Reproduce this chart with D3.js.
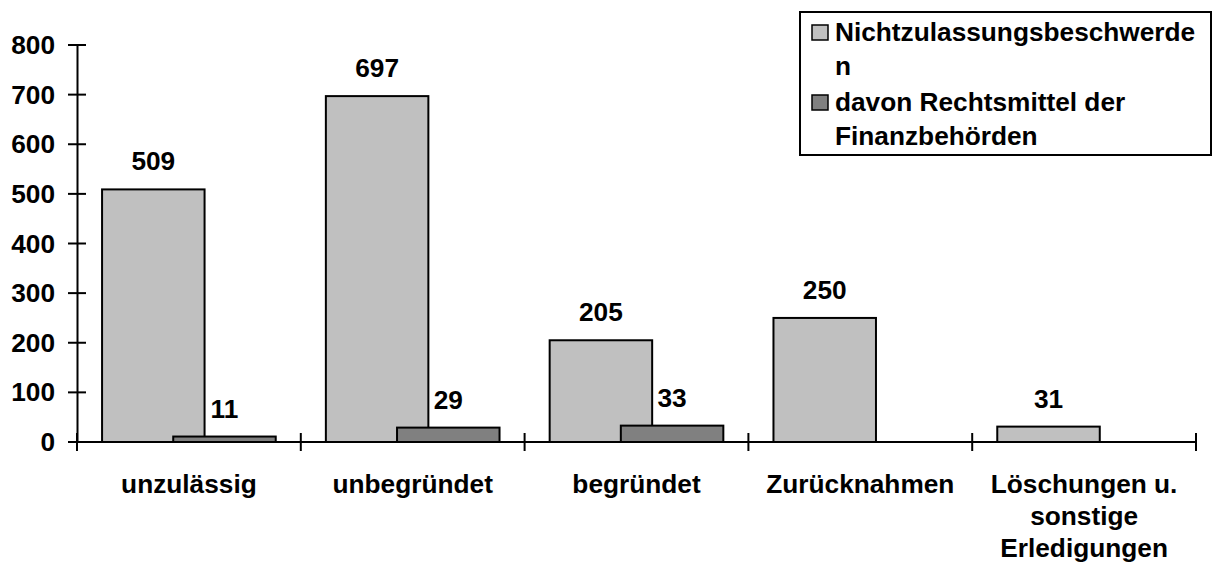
<!DOCTYPE html>
<html>
<head>
<meta charset="utf-8">
<script src="https://cdn.jsdelivr.net/npm/d3@7"></script>
<style>
	body { margin: 0; background: #ffffff; }
	text { font-family: Arial, "Liberation Sans", sans-serif; font-weight: bold; fill: #000000; }
</style>
</head>
<body>
<div id="chart"></div>
<script>

//chart data
var categories = ["unzulässig", "unbegründet", "begründet", "Zurücknahmen", "Löschungen u.|sonstige|Erledigungen"];
var nzbValues = [509, 697, 205, 250, 31];
var rechtsmittelValues = [11, 29, 33, null, null];
var seriesNames = ["Nichtzulassungsbeschwerde|n", "davon Rechtsmittel der|Finanzbehörden"];
var seriesColors = ["#c0c0c0", "#808080"];
var yTicks = [0, 100, 200, 300, 400, 500, 600, 700, 800];

//sets the size of the chart
var width = 1217;
var height = 565;
var stretch = 1.05;		//text in the picture is a little wider than Arial

var svg = d3.select("#chart")
	.append("svg")
	.attr("width", width)
	.attr("height", height);

//scales
var x = d3.scaleBand()
	.domain(categories)
	.range([77, 1196])
	.padding(0);

var y = d3.scaleLinear()
	.domain([0, 800])
	.range([442, 45]);

var bw = x.bandwidth();
var barWidth = bw * 0.458;
var offsets = [bw * 0.112, bw * 0.43];

//writes a (possibly multi line) text
function addText(parent, str, tx, ty, anchor, lineHeight){
	var t = parent.append("text")
		.attr("transform", "translate(" + tx + "," + ty + ") scale(" + stretch + ",1)")
		.attr("text-anchor", anchor)
		.style("font-size", "25px");
	str.split("|").forEach(function(line, i){
		t.append("tspan")
			.attr("x", 0)
			.attr("y", i * lineHeight)
			.text(line);
	});
	return t;
}

// y axis
var yAxis = d3.axisLeft(y)
	.tickValues(yTicks)
	.tickSize(0)
	.tickFormat("");

svg.append("g")
	.attr("transform", "translate(77,0)")
	.call(yAxis)
	.select(".domain")
	.attr("stroke", "#000")
	.attr("stroke-width", 2);

svg.append("g").selectAll("line")
	.data(yTicks)
	.enter()
	.append("line")
	.attr("x1", 68)
	.attr("x2", 86)
	.attr("y1", function(d) { return y(d); })
	.attr("y2", function(d) { return y(d); })
	.attr("stroke", "#000")
	.attr("stroke-width", 2);

yTicks.forEach(function(d){
	addText(svg, String(d), 55, y(d) + 9, "end", 0);
});

//bars, the light series first so the dark one lies on top
var seriesData = [nzbValues, rechtsmittelValues];

seriesData.forEach(function(values, s){
	var g = svg.append("g");
	categories.forEach(function(c, i){
		var v = values[i];
		if(v === null) return;
		var bx = x(c) + offsets[s];
		g.append("rect")
			.attr("x", bx)
			.attr("y", y(v))
			.attr("width", barWidth)
			.attr("height", y(0) - y(v))
			.style("fill", seriesColors[s])
			.style("stroke", "#000")
			.style("stroke-width", 2);
	});
});

//value labels
seriesData.forEach(function(values, s){
	categories.forEach(function(c, i){
		var v = values[i];
		if(v === null) return;
		addText(svg, String(v), x(c) + offsets[s] + barWidth / 2, y(v) - 19, "middle", 0);
	});
});

// x axis
svg.append("line")
	.attr("x1", 77)
	.attr("x2", 1196)
	.attr("y1", y(0))
	.attr("y2", y(0))
	.attr("stroke", "#000")
	.attr("stroke-width", 2);

var xTickPos = categories.map(function(c) { return x(c); }).concat([x.range()[1]]);
svg.append("g").selectAll("line")
	.data(xTickPos)
	.enter()
	.append("line")
	.attr("x1", function(d) { return d; })
	.attr("x2", function(d) { return d; })
	.attr("y1", y(0) - 9)
	.attr("y2", y(0) + 9)
	.attr("stroke", "#000")
	.attr("stroke-width", 2);

categories.forEach(function(c){
	addText(svg, c, x(c) + bw / 2, 493, "middle", 32);
});

//legend
var legend = svg.append("g");
legend.append("rect")
	.attr("x", 800)
	.attr("y", 12)
	.attr("width", 411)
	.attr("height", 143)
	.style("fill", "#fff")
	.style("stroke", "#000")
	.style("stroke-width", 2);

var legendRows = [41, 111];
seriesNames.forEach(function(name, s){
	legend.append("rect")
		.attr("x", 812)
		.attr("y", legendRows[s] - 16)
		.attr("width", 16)
		.attr("height", 15)
		.style("fill", seriesColors[s])
		.style("stroke", "#000")
		.style("stroke-width", 1.5);
	addText(legend, name, 835, legendRows[s], "start", 34);
});

</script>
</body>
</html>
